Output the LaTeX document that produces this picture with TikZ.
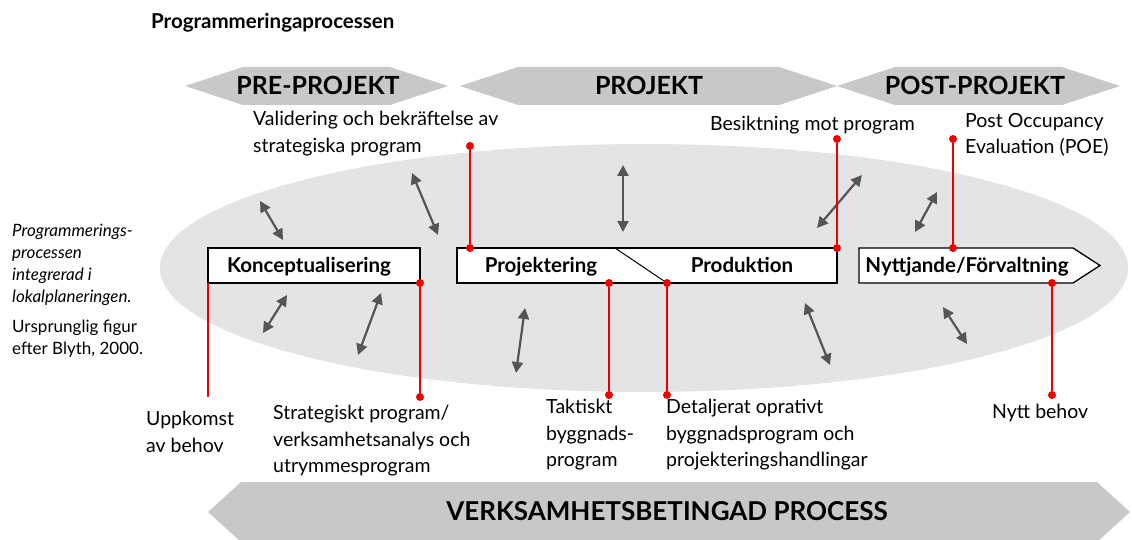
\documentclass[tikz,border=0pt]{standalone}
\usepackage{fontspec}
\setmainfont{Lato}
\usetikzlibrary{arrows.meta}

\definecolor{bandgray}{HTML}{C8C8C8}
\definecolor{ovalgray}{HTML}{E4E4E4}
\definecolor{arrowgray}{HTML}{555555}
\definecolor{markred}{HTML}{EE0000}

\tikzset{
	band/.style={fill=bandgray},
	bandtext/.style={anchor=base, inner sep=0, font=\fontsize{25}{25}\selectfont\bfseries},
	phase/.style={draw, line width=1.3pt, fill=white, minimum height=35, inner sep=0},
	phasetext/.style={anchor=base, inner sep=0, font=\fontsize{20.5}{20.5}\selectfont\bfseries},
	link/.style={{Triangle[length=11pt,width=11pt]}-{Triangle[length=11pt,width=11pt]}, line width=2.2pt, arrowgray},
	tie/.style={markred, line width=1.6pt},
	dot/.style={circle, fill=markred, inner sep=0, minimum size=8pt},
	note/.style={align=left, anchor=north west, inner sep=0, font=\fontsize{19.5}{26.5}\selectfont},
	aside/.style={align=left, anchor=north west, inner sep=0, font=\fontsize{17}{22}\selectfont},
}

\begin{document}
\begin{tikzpicture}[x=1pt,y=-1pt]
	\useasboundingbox (0,0) rectangle (1132,540);
	
	% Define the variables
	\def\tip{58}
	\def\boxtop{248}
	\def\boxbot{283}
	
	% Title
	\node[anchor=base west, inner sep=0, font=\fontsize{20.5}{20.5}\selectfont\bfseries] (title) at (151,29) {Programmeringaprocessen};
	
	% Phase bands
	\foreach \l/\r in {185/448, 460/837, 837/1120}
	\fill[band] (\l,86) -- (\l+\tip,67) -- (\r-\tip,67) -- (\r,86) -- (\r-\tip,105) -- (\l+\tip,105) -- cycle;
	\node[bandtext] (pre) at (318,95) {PRE-PROJEKT};
	\node[bandtext] (proj) at (649,95) {PROJEKT};
	\node[bandtext] (post) at (975,95) {POST-PROJEKT};
	
	% Oval
	\fill[ovalgray] (644,268) ellipse [x radius=484, y radius=124];
	
	% Double arrows
	\foreach \xa/\ya/\xb/\yb in {260/201/283/240, 412/173/438/235, 287/295/263/333, 381/293/358/355, 623/165/623/232, 862/175/817/228, 937/192/915/232, 525/308/516/373, 805/303/830/365, 943/307/967/344}
	\draw[link] (\xa,\ya) -- (\xb,\yb);
	
	% Phase boxes
	\node[phase, minimum width=212] (konc) at (314,265.5) {};
	\node[phasetext] (konctext) at (309,272) {Konceptualisering};
	\node[phase, minimum width=380] (projbox) at (647,265.5) {};
	\node[phasetext] (projtext) at (541,272) {Projektering};
	\node[phasetext] (prodtext) at (742,272) {Produktion};
	\draw[line width=1pt] (615,\boxtop) -- (667,\boxbot);
	\draw[line width=1.3pt, fill=white] (859,\boxtop) -- (1073,\boxtop) -- (1100,265.5) -- (1073,\boxbot) -- (859,\boxbot) -- cycle;
	\node[phasetext] (nytttext) at (967,272) {Nyttjande/Förvaltning};
	
	% Red markers
	\coordinate (u1) at (208,\boxbot);
	\coordinate (u2) at (208,397);
	\draw[tie] (u1) -- (u2);
	\foreach \n/\x/\ya/\yb in {a/470/146/\boxtop, b/837/139/\boxtop, c/953/139/\boxtop, d/420/\boxbot/397, e/609/\boxbot/395, f/667/\boxbot/395, g/1052/\boxbot/395}
	{
		\node[dot] (\n1) at (\x,\ya) {};
		\node[dot] (\n2) at (\x,\yb) {};
		\draw[tie] (\n1) -- (\n2);
	}
	
	% Labels
	\node[note] (valid) at (253,111) {Validering och bekräftelse av\\strategiska program};
	\node[note] (besikt) at (710,116) {Besiktning mot program};
	\node[note] (poe) at (965,113) {Post Occupancy\\Evaluation (POE)};
	\node[note] (uppk) at (146,411) {Uppkomst\\av behov};
	\node[note] (strat) at (273,405) {Strategiskt program/\\verksamhetsanalys och\\utrymmesprogram};
	\node[note] (takt) at (546,399) {Taktiskt\\byggnads-\\program};
	\node[note] (detal) at (666,399) {Detaljerat oprativt\\byggnadsprogram och\\projekteringshandlingar};
	\node[note] (nytt) at (992,404) {Nytt behov};
	
	% Side notes
	\node[aside, font=\fontsize{17}{22}\selectfont\itshape] (integr) at (12,224) {Programmerings-\\processen\\integrerad i\\lokalplaneringen.};
	\node[aside] (blyth) at (12,320) {Ursprunglig figur\\efter Blyth, 2000.};
	
	% Process band
	\fill[band] (208,512) -- (241,482) -- (1097,482) -- (1130,512) -- (1097,542) -- (241,542) -- cycle;
	\node[bandtext, font=\fontsize{26}{26}\selectfont\bfseries] (verks) at (667,520) {VERKSAMHETSBETINGAD PROCESS};
\end{tikzpicture}
\end{document}
